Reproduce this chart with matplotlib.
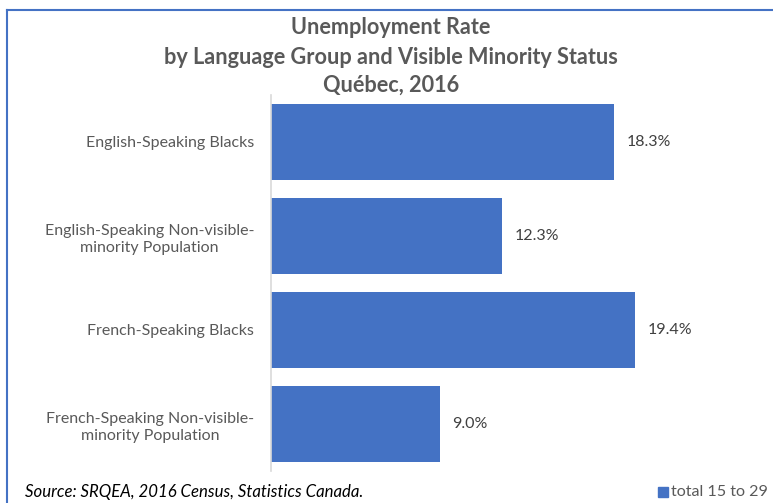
import matplotlib
matplotlib.use("Agg")
import matplotlib.pyplot as plt
from matplotlib.lines import Line2D
from matplotlib.patches import Rectangle

categories = ["English-Speaking Blacks",
              "English-Speaking Non-visible-\nminority Population",
              "French-Speaking Blacks",
              "French-Speaking Non-visible-\nminority Population"]
values = [18.3, 12.3, 19.4, 9.0]
value_labels = ["18.3%", "12.3%", "19.4%", "9.0%"]
series_name = "total 15 to 29"

plt.rcParams['font.family'] = ['Lato', 'DejaVu Sans']
W, H = 773, 503
fig = plt.figure(figsize=(W/100, H/100), dpi=100)
bar_color = "#4472C4"
gray = "#595959"

ax = fig.add_axes([271/W, 1-471/H, (740-271)/W, (471-95)/H])
y = list(range(len(categories)))
ax.barh(y, values, height=0.8, color=bar_color)
ax.set_ylim(len(categories)-0.5, -0.5)
ax.set_xlim(0, 25)
ax.set_yticks(y)
ax.set_yticklabels(categories, fontsize=11.5, color=gray, ha='right', multialignment='center',
                   linespacing=1.35)
ax.tick_params(axis='y', length=0, pad=12)
ax.set_xticks([])
for s in ['top', 'right', 'bottom']:
    ax.spines[s].set_visible(False)
ax.spines['left'].set_color("#D9D9D9")
ax.spines['left'].set_linewidth(1.2)
for yi, v, lab in zip(y, values, value_labels):
    ax.annotate(lab, (v, yi), xytext=(9, 0), textcoords='offset points',
                va='center', ha='left', fontsize=11.5, color="#404040")

for ty, t in [(27, "Unemployment Rate"),
              (57, "by Language Group and Visible Minority Status"),
              (85, "Québec, 2016")]:
    fig.text(391/W, 1-ty/H, t, ha='center', va='center',
             fontsize=15.6, fontweight='bold', color=gray)

fig.text(25/W, 1-492/H, "Source: SRQEA, 2016 Census, Statistics Canada.", ha='left', va='center',
         fontsize=12.1, style='italic', color="black")

fig.patches.append(Rectangle((658/W, 1-497/H), 10/W, 10/H, transform=fig.transFigure,
                             color=bar_color, figure=fig))
fig.text(671/W, 1-492/H, series_name, ha='left', va='center', fontsize=11.6, color=gray)

fig.lines.append(Line2D([7/W, 7/W], [0, 1-10/H], transform=fig.transFigure,
                        color=bar_color, linewidth=1.5))
fig.lines.append(Line2D([7/W, 1], [1-10/H, 1-10/H], transform=fig.transFigure,
                        color=bar_color, linewidth=1.5))

fig.savefig("out.png", dpi=100)
